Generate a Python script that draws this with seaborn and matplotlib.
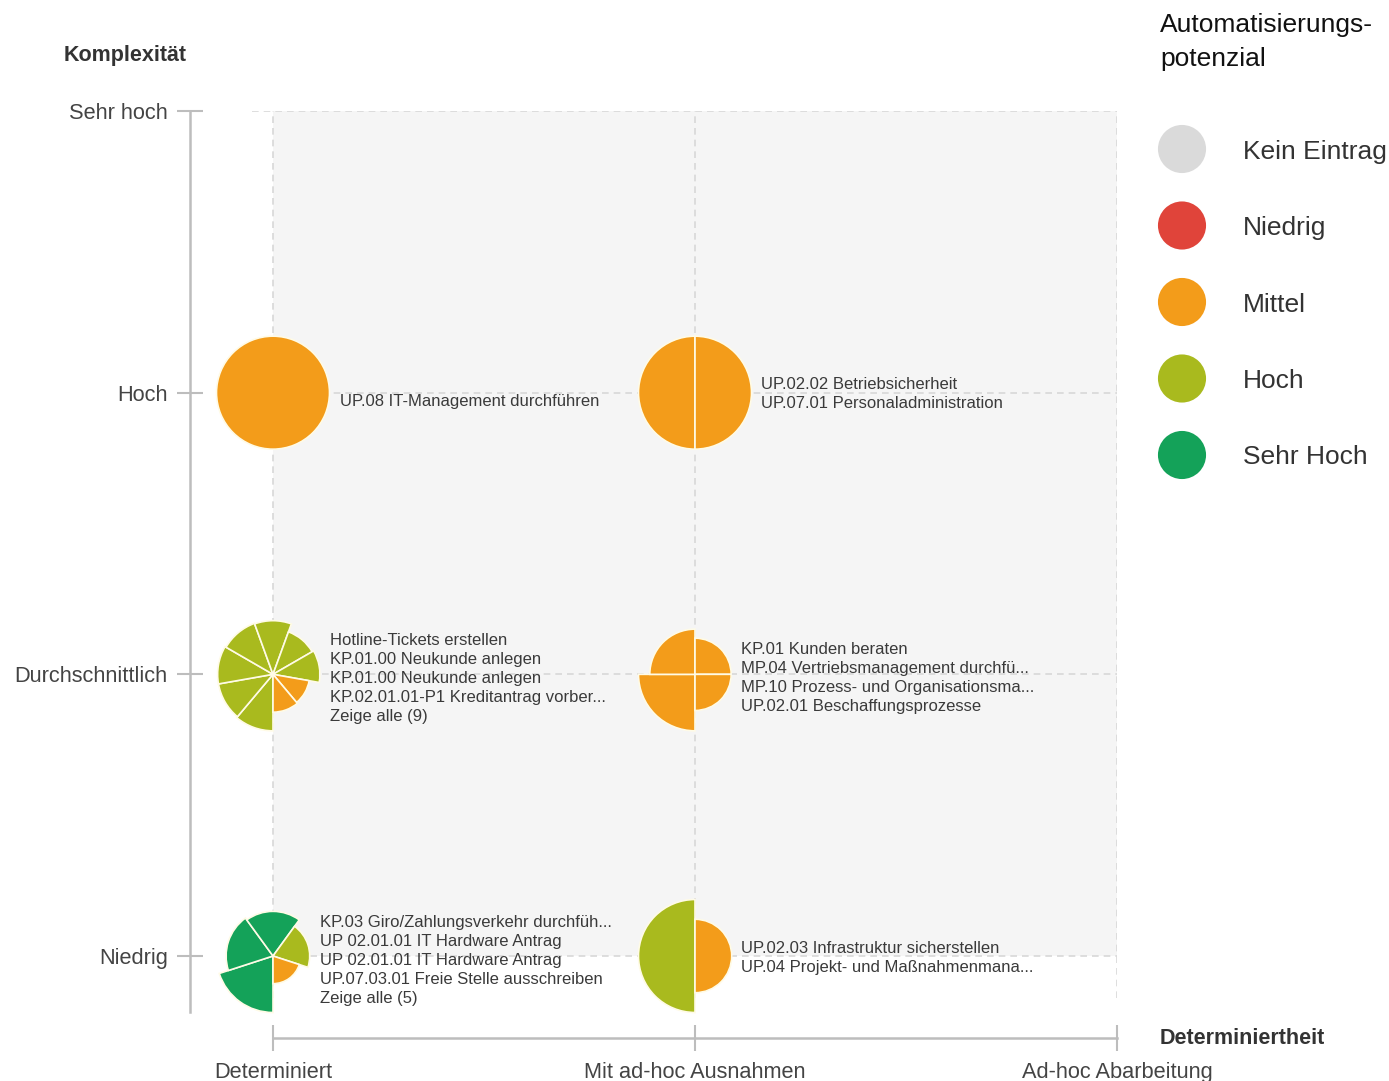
import numpy as np
import seaborn as sns
import matplotlib
matplotlib.use("Agg")
from matplotlib import pyplot as plt
from matplotlib import font_manager
from matplotlib.patches import Wedge, Rectangle
from matplotlib.transforms import ScaledTranslation

x_categories = ["Determiniert", "Mit ad-hoc Ausnahmen", "Ad-hoc Abarbeitung"]
y_categories = ["Niedrig", "Durchschnittlich", "Hoch", "Sehr hoch"]

levels = ["Kein Eintrag", "Niedrig", "Mittel", "Hoch", "Sehr Hoch"]
level_colors = ["#dadada", "#e0443a", "#f39c1a", "#a9ba1e", "#14a259"]

# one entry per bubble
bubble_x = ["Determiniert", "Mit ad-hoc Ausnahmen", "Determiniert",
            "Mit ad-hoc Ausnahmen", "Determiniert", "Mit ad-hoc Ausnahmen"]
bubble_y = ["Hoch", "Hoch", "Durchschnittlich", "Durchschnittlich", "Niedrig", "Niedrig"]

# slices go clockwise starting at 6 o'clock, radius relative to the largest one
slice_levels = [
    ["Mittel"],
    ["Mittel", "Mittel"],
    ["Hoch", "Hoch", "Hoch", "Hoch", "Hoch", "Hoch", "Hoch", "Mittel", "Mittel"],
    ["Mittel", "Mittel", "Mittel", "Mittel"],
    ["Sehr Hoch", "Sehr Hoch", "Sehr Hoch", "Hoch", "Mittel"],
    ["Hoch", "Mittel"],
]
slice_radius = [
    [1.0],
    [1.0, 1.0],
    [1.0, 0.98, 0.98, 0.96, 0.95, 0.80, 0.83, 0.65, 0.67],
    [1.0, 0.80, 0.64, 0.64],
    [1.0, 0.83, 0.79, 0.65, 0.49],
    [1.0, 0.65],
]

bubble_labels = [
    ["UP.08 IT-Management durchführen"],
    ["UP.02.02 Betriebsicherheit", "UP.07.01 Personaladministration"],
    ["Hotline-Tickets erstellen", "KP.01.00 Neukunde anlegen", "KP.01.00 Neukunde anlegen",
     "KP.02.01.01-P1 Kreditantrag vorber...", "Zeige alle (9)"],
    ["KP.01 Kunden beraten", "MP.04 Vertriebsmanagement durchfü...",
     "MP.10 Prozess- und Organisationsma...", "UP.02.01 Beschaffungsprozesse"],
    ["KP.03 Giro/Zahlungsverkehr durchfüh...", "UP 02.01.01 IT Hardware Antrag",
     "UP 02.01.01 IT Hardware Antrag", "UP.07.03.01 Freie Stelle ausschreiben", "Zeige alle (5)"],
    ["UP.02.03 Infrastruktur sicherstellen", "UP.04 Projekt- und Maßnahmenmana..."],
]

# layout (pixels)
label_dx = [67, 66, 57, 46, 47, 46]
label_dy = [7, 0, 3, 2, 3, 0]
line_h = 19
max_r = 56.5

sns.set_theme(style="white")
plt.rcParams["font.family"] = ["Liberation Sans", "DejaVu Sans"]

W, H = 1389, 1081
fig = plt.figure(figsize=(W / 100, H / 100), dpi=100)
fig.patch.set_facecolor("white")

ax = fig.add_axes([190 / W, 1 - 1038 / H, (1117 - 190) / W, (1038 - 111) / H])
ax.set_facecolor("none")
ax.set_autoscale_on(False)
ax.set_xlim(-83 / 422, 2)
ax.set_ylim(-82 / 281.67, 3)

ax.add_patch(Rectangle((0, 0), 2, 3, facecolor="#f5f5f5", edgecolor="none", zorder=0))
ax.vlines(range(len(x_categories)), -0.15, 3.06, colors="#d8d8d8",
          linestyles=(0, (4, 3)), linewidth=1.2, zorder=1)
ax.hlines(range(len(y_categories)), -0.05, 2.02, colors="#d8d8d8",
          linestyles=(0, (4, 3)), linewidth=1.2, zorder=1)

color_of = dict(zip(levels, level_colors))

for i in range(len(bubble_x)):
    cx = x_categories.index(bubble_x[i])
    cy = y_categories.index(bubble_y[i])
    tr = fig.dpi_scale_trans + ScaledTranslation(cx, cy, ax.transData)
    n = len(slice_levels[i])
    step = 360 / n
    for k, (lvl, r) in enumerate(zip(slice_levels[i], slice_radius[i])):
        a1 = 180 + k * step
        a2 = a1 + step
        ax.add_patch(Wedge((0, 0), r * max_r / 100, 90 - a2, 90 - a1, transform=tr,
                           facecolor=color_of[lvl], edgecolor="#fffbe6",
                           linewidth=1.2, zorder=3))
    lines = bubble_labels[i]
    for j, txt in enumerate(lines):
        dy = ((len(lines) - 1) / 2 - j) * line_h - label_dy[i]
        ax.annotate(txt, xy=(cx, cy), xytext=(label_dx[i], dy), textcoords="offset pixels",
                    ha="left", va="center_baseline", fontsize=12, color="#3a3a3a", zorder=4)

for side in ["top", "right"]:
    ax.spines[side].set_visible(False)
for side in ["left", "bottom"]:
    ax.spines[side].set_color("#bdbdbd")
    ax.spines[side].set_linewidth(1.8)
ax.spines["left"].set_bounds(-0.2, 3)
ax.spines["bottom"].set_bounds(0, 2)

ax.set_xticks(range(len(x_categories)), x_categories)
ax.set_yticks(range(len(y_categories)), y_categories)
ax.tick_params(axis="both", left=True, bottom=True, direction="inout", length=19,
               width=1.5, color="#bdbdbd", labelsize=15.7, labelcolor="#444444")
ax.tick_params(axis="y", pad=6.5)
ax.tick_params(axis="x", pad=7.5)

fig.text(64 / W, 1 - 55 / H, "Komplexität", fontsize=15.5, fontweight="bold",
         color="#333333", ha="left", va="center")
fig.text(1160 / W, 1 - 1038 / H, "Determiniertheit", fontsize=15.5, fontweight="bold",
         color="#333333", ha="left", va="center")

# legend
installed = {f.name for f in font_manager.fontManager.ttflist}
if "Liberation Sans Narrow" in installed:
    title_font, title_size = "Liberation Sans Narrow", 23
else:
    title_font, title_size = "Liberation Sans", 19
fig.text(1160 / W, 1 - 32 / H, "Automatisierungs-", fontsize=title_size, family=title_font,
         color="#111111", ha="left", va="baseline")
fig.text(1160 / W, 1 - 66 / H, "potenzial", fontsize=title_size, family=title_font,
         color="#111111", ha="left", va="baseline")

lax = fig.add_axes([1140 / W, 1 - 500 / H, 249 / W, 390 / H])
sns.scatterplot(x=np.zeros(len(levels)), y=np.arange(len(levels)), hue=levels,
                palette=color_of, s=1200, edgecolor="none", legend=False, ax=lax)
lax.set_xlim(-42, 207)
lax.set_ylim(4 + 45 / 76.5, -39 / 76.5)
for i, lvl in enumerate(levels):
    lax.text(61, i, lvl, fontsize=19, color="#333333", ha="left", va="center_baseline")
lax.axis("off")

fig.savefig("out.png", dpi=100)
